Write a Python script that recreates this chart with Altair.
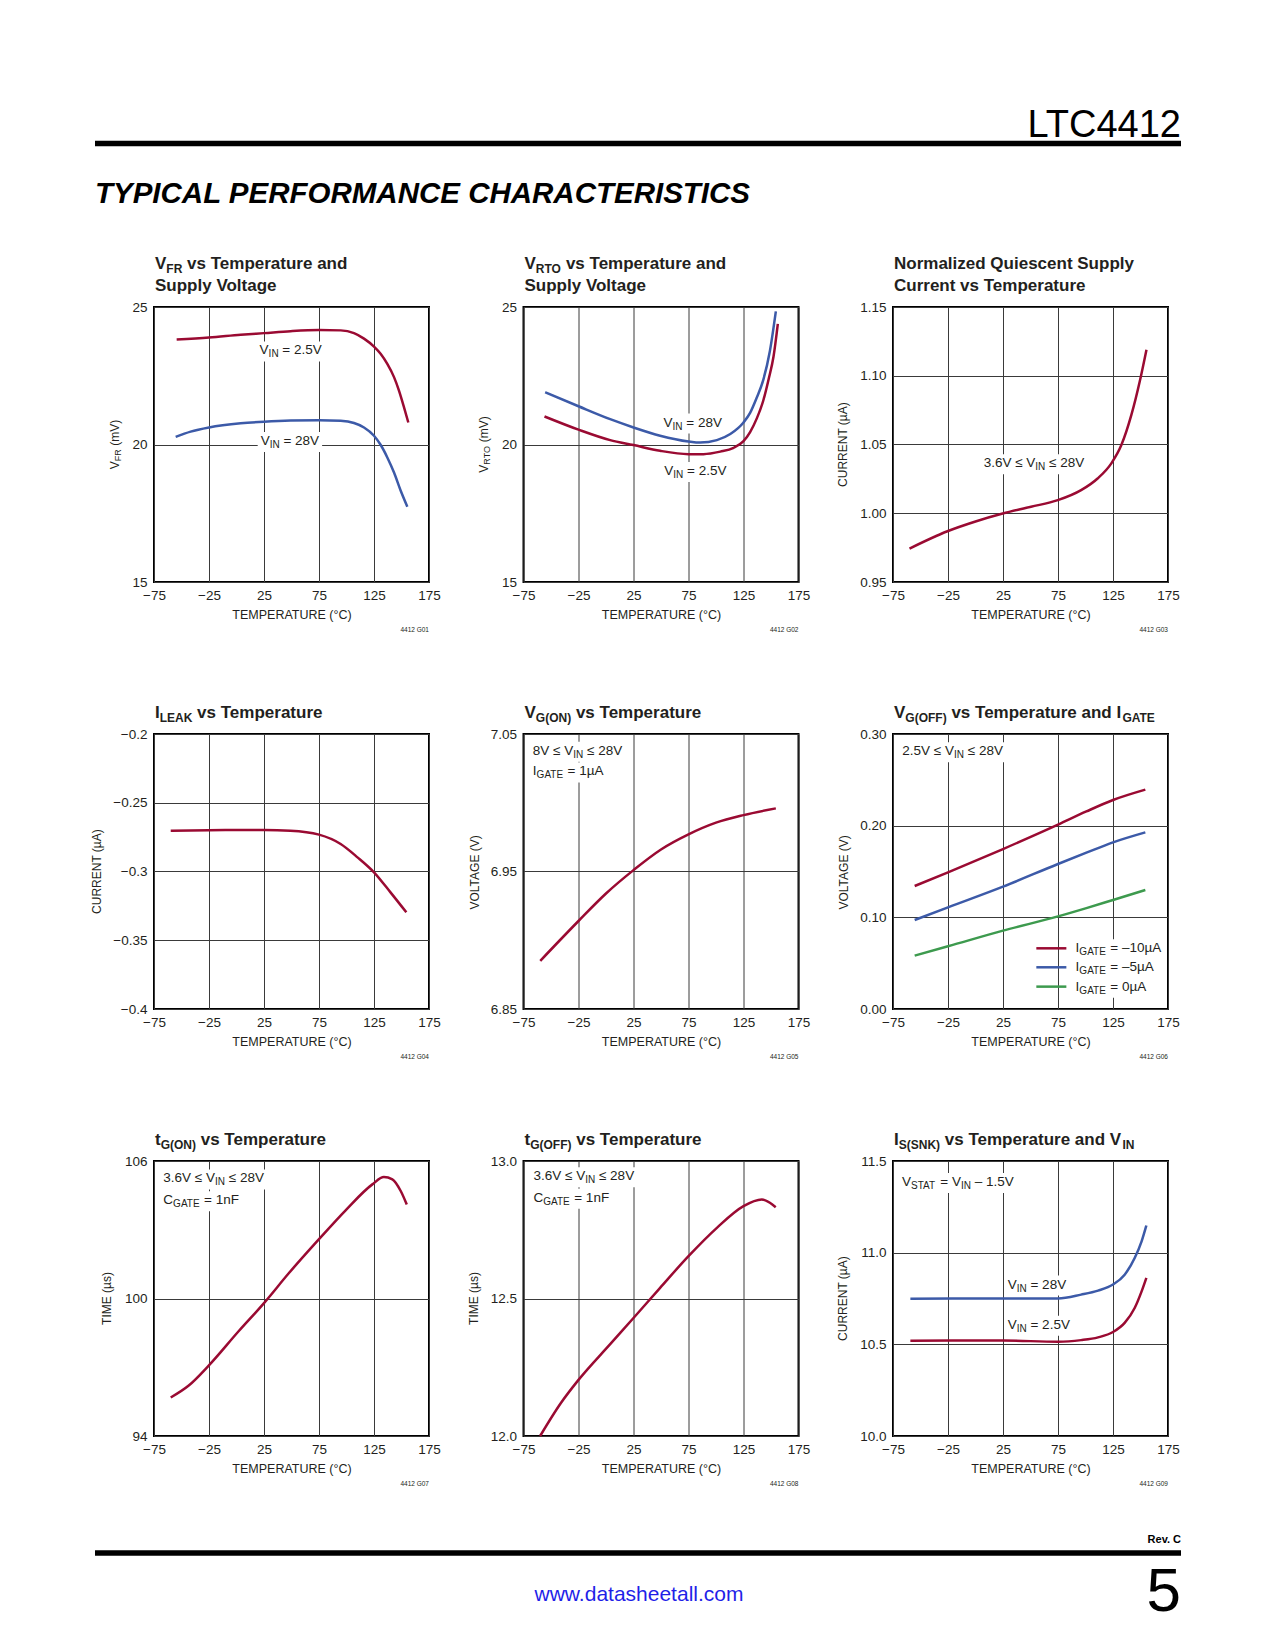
import altair as alt
import pandas as pd

FONT = "Liberation Sans"
INK = "#231f20"
RED = "#9a0a32"
BLUE = "#3c5aa8"
GREEN = "#3d9a4e"
GRID = "#3a3a3a"

PLOT_W = 275
PLOT_H = 275
PX_PER_DEG = PLOT_W / 250.0
TEMP_TICKS = [-75, -25, 25, 75, 125, 175]

# ---------------- data ----------------
# G01  VFR vs temperature
VFR_T_25 = [-54.4, -25, 3.8, 25, 49.2, 75, 94.7, 106.8, 115.9, 125, 131, 137.1, 143.2, 147.7, 152.3, 156.2]
VFR_V_25 = [23.82, 23.89, 23.99, 24.05, 24.12, 24.16, 24.15, 24.05, 23.85, 23.56, 23.30, 22.93, 22.45, 21.96, 21.35, 20.80]
VFR_T_28 = [-55.3, -41.7, -25, 3.8, 25, 49.2, 75, 94.7, 106.8, 115.9, 125, 131, 137.1, 143.2, 149.2, 155.3]
VFR_V_28 = [20.28, 20.47, 20.62, 20.77, 20.83, 20.87, 20.88, 20.86, 20.78, 20.62, 20.32, 19.99, 19.53, 18.98, 18.33, 17.74]
# G02  VRTO vs temperature
VRTO_T_28 = [-55.3, -25, 3.8, 25, 49.2, 75, 85.6, 100.8, 113, 125, 131, 137, 143, 149, 154.4]
VRTO_V_28 = [21.90, 21.39, 20.92, 20.62, 20.32, 20.11, 20.07, 20.16, 20.38, 20.80, 21.15, 21.70, 22.35, 23.40, 24.84]
VRTO_T_25 = [-55.9, -25, 3.8, 25, 49.2, 75, 88.6, 103.9, 116, 125, 131, 137.1, 143, 148, 152.3, 156.2]
VRTO_V_25 = [21.02, 20.54, 20.16, 19.98, 19.77, 19.65, 19.65, 19.74, 19.88, 20.12, 20.45, 20.95, 21.60, 22.40, 23.20, 24.39]
# G03  normalized quiescent current
IQ_T = [-60, -25.5, 0, 24.7, 50.5, 74.8, 96, 111, 123.5, 132.6, 141.7, 149.3, 155.4]
IQ_V = [0.9743, 0.9869, 0.9940, 0.9998, 1.0047, 1.0095, 1.0168, 1.0253, 1.0363, 1.0496, 1.0715, 1.0958, 1.1189]
# G04  ILEAK
ILEAK_T = [-59.8, -25, 25, 49, 75, 94.7, 110, 125, 140, 154.4]
ILEAK_V = [-0.2703, -0.2700, -0.2698, -0.2703, -0.2732, -0.2800, -0.2897, -0.3006, -0.3152, -0.3297]
# G05  VG(ON)
VGON_T = [-59.8, -25, 0, 25, 50, 75, 100, 125, 154.4]
VGON_V = [6.885, 6.914, 6.934, 6.951, 6.966, 6.977, 6.9855, 6.991, 6.9959]
# G06  VG(OFF)
VGOFF_T = [-55.3, -25, 25, 75, 100.8, 125, 154.4]
VGOFF_M10 = [0.1342, 0.1491, 0.1745, 0.2011, 0.2155, 0.2280, 0.2393]
VGOFF_M5 = [0.0971, 0.1109, 0.1335, 0.1582, 0.1705, 0.1818, 0.1927]
VGOFF_0 = [0.0582, 0.0684, 0.0855, 0.1010, 0.1100, 0.1189, 0.1298]
# G07  tG(ON)
TGON_T = [-59.8, -43.7, -25.5, 1.9, 25, 47.5, 75.2, 99.2, 123.5, 134, 141.7, 149.3, 154.8]
TGON_V = [95.68, 96.19, 97.06, 98.57, 99.80, 101.1, 102.6, 103.85, 104.98, 105.30, 105.2, 104.69, 104.1]
# G08  tG(OFF)
TGOFF_T = [-59.9, -41, -25, 3.8, 25, 49, 75, 100.8, 125, 141.6, 149, 154.3]
TGOFF_V = [12.0, 12.12, 12.204, 12.334, 12.429, 12.538, 12.654, 12.757, 12.836, 12.86, 12.848, 12.832]
# G09  IS(SNK)
ISNK_T = [-59.2, 25, 75, 96, 111.4, 125, 135.6, 144.7, 151, 155.3]
ISNK_28 = [10.749, 10.75, 10.75, 10.771, 10.793, 10.826, 10.88, 10.971, 11.062, 11.148]
ISNK_25 = [10.52, 10.521, 10.514, 10.523, 10.538, 10.567, 10.617, 10.698, 10.789, 10.862]

# legend of G06
LEG_NAMES = ["-10", "-5", "0"]
LEG_T1 = [55.3, 55.3, 55.3]
LEG_T2 = [82.6, 82.6, 82.6]
LEG_V = [0.0662, 0.0455, 0.0244]

# ---------------- text metrics (Arial widths, 1/1000 em) ----------------
REG = {' ': 278, '.': 278, '=': 584, '–': 556, '−': 584, '≤': 549, 'µ': 576, '(': 333, ')': 333,
       '°': 400, 'A': 667, 'B': 667, 'C': 722, 'D': 722, 'E': 667, 'F': 611, 'G': 778, 'H': 722,
       'I': 278, 'K': 667, 'L': 556, 'M': 833, 'N': 722, 'O': 778, 'P': 667, 'Q': 778, 'R': 722,
       'S': 667, 'T': 611, 'U': 722, 'V': 667, 'a': 556, 'b': 556, 'c': 500, 'd': 556, 'e': 556,
       'f': 278, 'g': 556, 'h': 556, 'i': 222, 'k': 500, 'l': 222, 'm': 833, 'n': 556, 'o': 556,
       'p': 556, 'r': 333, 's': 500, 't': 278, 'u': 556, 'v': 500, 'y': 500, 'z': 500}
BOLD = {' ': 278, '(': 333, ')': 333, 'A': 722, 'C': 722, 'E': 667, 'F': 611, 'G': 778, 'I': 278,
        'K': 722, 'L': 611, 'N': 722, 'O': 778, 'Q': 778, 'R': 722, 'S': 667, 'T': 611, 'V': 667,
        'a': 556, 'c': 556, 'd': 611, 'e': 556, 'g': 611, 'i': 278, 'l': 278, 'm': 889, 'n': 611,
        'o': 611, 'p': 611, 'r': 389, 's': 556, 't': 333, 'u': 611, 'v': 556, 'y': 556, 'z': 500}


def tw(s, size, bold=False):
    tab = BOLD if bold else REG
    return sum(tab.get(c, 556) for c in s) * size / 1000.0


ONE = pd.DataFrame({"k": [0]})

T_MAIN, T_SUB = 17, 12      # chart titles
N_MAIN, N_SUB = 13.5, 10    # in-plot notes
Y_MAIN, Y_SUB = 12, 9       # y-axis titles


def fixed_text(txt, x, y, size, bold=False, align="left", baseline="alphabetic",
               dy=0, angle=0, color=INK, italic=False):
    kw = dict(align=align, baseline=baseline, font=FONT, fontSize=size,
              fontWeight="bold" if bold else "normal", color=color)
    if dy:
        kw["dy"] = dy
    if angle:
        kw["angle"] = angle
    if italic:
        kw["fontStyle"] = "italic"
    return alt.Chart(ONE).mark_text(**kw).encode(
        x=alt.value(x), y=alt.value(y), text=alt.value(txt))


def split_lead(txt):
    s = txt.lstrip(" ")
    return txt[:len(txt) - len(s)], s


def title_layers(lines, x0=1.0):
    out = []
    for by, segs in lines:
        x = x0
        for txt, sub in segs:
            size = T_SUB if sub else T_MAIN
            lead, s = split_lead(txt)
            x += tw(lead, size, bold=True)
            out.append(fixed_text(s, x, by, size, bold=True, dy=3.5 if sub else 0))
            x += tw(s, size, bold=True)
    return out


def ytitle_layers(cx, segs):
    widths = [tw(t, Y_SUB if s else Y_MAIN) for t, s in segs]
    y = PLOT_H / 2 + sum(widths) / 2
    out = []
    for (txt, s), w in zip(segs, widths):
        sz = Y_SUB if s else Y_MAIN
        lead, st = split_lead(txt)
        out.append(fixed_text(st, cx, y - tw(lead, sz), sz, baseline="middle",
                              dy=3 if s else 0, angle=270))
        y -= w
    return out


def note_frames(notes, ydom):
    px_per_v = PLOT_H / float(ydom[1] - ydom[0])
    mrows, srows, boxes = [], [], []
    for T0, V0, segs in notes:
        off = 0.0
        for txt, s in segs:
            size = N_SUB if s else N_MAIN
            lead, st = split_lead(txt)
            off += tw(lead, size)
            (srows if s else mrows).append({"T": T0 + off / PX_PER_DEG, "V": V0, "txt": st})
            off += tw(st, size)
        boxes.append({"T": T0 - 3 / PX_PER_DEG, "T2": T0 + (off + 3) / PX_PER_DEG,
                      "V": V0 + 9 / px_per_v, "V2": V0 - 11 / px_per_v})
    return pd.DataFrame(mrows), pd.DataFrame(srows), pd.DataFrame(boxes)


def panel(series, ydom, yvals, yfmt, notes, tlines, ysegs, ycx, code, legend=None, extra=None):
    rows = []
    for name, ts, vs, col in series:
        rows += [{"T": t, "V": v, "s": name} for t, v in zip(ts, vs)]
    df = pd.DataFrame(rows)
    names = [s[0] for s in series]
    cols = [s[3] for s in series]

    def X(f):
        return alt.X(f"{f}:Q", scale=alt.Scale(domain=[-75, 175], nice=False, zero=False),
                     axis=alt.Axis(values=TEMP_TICKS, title="TEMPERATURE (°C)"))

    Y = alt.Y("V:Q", scale=alt.Scale(domain=ydom, nice=False, zero=False),
              axis=alt.Axis(values=yvals, format=yfmt, title=None))
    C = alt.Color("s:N", scale=alt.Scale(domain=names, range=cols), legend=None)

    m, s, b = note_frames(notes, ydom)
    layers = []
    if len(b):
        layers.append(alt.Chart(b).mark_rect(color="white")
                      .encode(x=X("T"), x2="T2:Q", y=Y, y2="V2:Q"))
    layers.append(alt.Chart(df).mark_line(strokeWidth=2.5, interpolate="monotone")
                  .encode(x=X("T"), y=Y, color=C))
    if legend is not None:
        layers.append(alt.Chart(legend).mark_rule(strokeWidth=2.5)
                      .encode(x=X("T"), x2="T2:Q", y=Y, color=C))
    for df_, size, dy in [(m, N_MAIN, 0), (s, N_SUB, 4)]:
        if len(df_) == 0:
            continue
        layers.append(alt.Chart(df_).mark_text(align="left", baseline="middle", font=FONT,
                                               fontSize=size, dy=dy, fill=INK)
                      .encode(x=X("T"), y=Y, text="txt:N"))
    layers += title_layers(tlines)
    layers += ytitle_layers(ycx, ysegs)
    layers.append(fixed_text(code, PLOT_W, PLOT_H + 48, 6.5, align="right", baseline="middle"))
    if extra:
        layers += extra
    return alt.layer(*layers).properties(width=PLOT_W, height=PLOT_H)


VIN = lambda v: [("V", 0), ("IN", 1), (" = " + v, 0)]
RANGE = lambda lo: [(lo + " ≤ V", 0), ("IN", 1), (" ≤ 28V", 0)]
GATE = lambda v: [("I", 0), ("GATE", 1), (" = " + v, 0)]
CGATE = [("C", 0), ("GATE", 1), (" = 1nF", 0)]
L1, L2 = -38, -16
ONE_LINE = -16

# page header (placed relative to the first panel, origin at page x=153, y=306)
header = [
    alt.Chart(ONE).mark_rule(color="white", strokeOpacity=0).encode(
        x=alt.value(-83), x2=alt.value(-83), y=alt.value(-226), y2=alt.value(-216)),
    alt.Chart(ONE).mark_rule(color="black", strokeWidth=5.3, strokeCap="butt").encode(
        x=alt.value(-59), x2=alt.value(1027), y=alt.value(-163.5)),
    fixed_text("LTC4412", 1027, -170, 38, align="right", color="black"),
    fixed_text("TYPICAL PERFORMANCE CHARACTERISTICS", -59, -104, 29.5, bold=True,
               italic=True, color="black"),
]
# page footer (relative to the seventh panel, origin at page x=153, y=1160)
footer = [
    alt.Chart(ONE).mark_rule(color="black", strokeWidth=5.3, strokeCap="butt").encode(
        x=alt.value(-59), x2=alt.value(1027), y=alt.value(392)),
    fixed_text("Rev. C", 1027, 382, 11, bold=True, align="right", color="black"),
    fixed_text("www.datasheetall.com", 485, 440, 21, align="center", color="#1f1fe8"),
    fixed_text("5", 1027, 450, 62, align="right", color="black"),
]

p1 = panel([("2.5V", VFR_T_25, VFR_V_25, RED), ("28V", VFR_T_28, VFR_V_28, BLUE)],
           [15, 25], [15, 20, 25], "d",
           [(21, 23.42, VIN("2.5V")), (22, 20.13, VIN("28V"))],
           [(L1, [("V", 0), ("FR", 1), (" vs Temperature and", 0)]),
            (L2, [("Supply Voltage", 0)])],
           [("V", 0), ("FR", 1), (" (mV)", 0)], -39, "4412 G01", extra=header)

p2 = panel([("2.5V", VRTO_T_25, VRTO_V_25, RED), ("28V", VRTO_T_28, VRTO_V_28, BLUE)],
           [15, 25], [15, 20, 25], "d",
           [(52.3, 20.80, VIN("28V")), (53, 19.04, VIN("2.5V"))],
           [(L1, [("V", 0), ("RTO", 1), (" vs Temperature and", 0)]),
            (L2, [("Supply Voltage", 0)])],
           [("V", 0), ("RTO", 1), (" (mV)", 0)], -40, "4412 G02")

p3 = panel([("all", IQ_T, IQ_V, RED)],
           [0.95, 1.15], [0.95, 1.0, 1.05, 1.10, 1.15], ".2f",
           [(7.4, 1.0363, RANGE("3.6V"))],
           [(L1, [("Normalized Quiescent Supply", 0)]),
            (L2, [("Current vs Temperature", 0)])],
           [("CURRENT (µA)", 0)], -50, "4412 G03")

p4 = panel([("all", ILEAK_T, ILEAK_V, RED)],
           [-0.4, -0.2], [-0.4, -0.35, -0.3, -0.25, -0.2], "~g",
           [],
           [(ONE_LINE, [("I", 0), ("LEAK", 1), (" vs Temperature", 0)])],
           [("CURRENT (µA)", 0)], -57, "4412 G04")

p5 = panel([("all", VGON_T, VGON_V, RED)],
           [6.85, 7.05], [6.85, 6.95, 7.05], ".2f",
           [(-66.5, 7.0379, RANGE("8V")), (-66.5, 7.0228, GATE("1µA"))],
           [(ONE_LINE, [("V", 0), ("G(ON)", 1), (" vs Temperature", 0)])],
           [("VOLTAGE (V)", 0)], -49, "4412 G05")

leg_df = pd.DataFrame({"T": LEG_T1, "T2": LEG_T2, "V": LEG_V, "s": LEG_NAMES})
p6 = panel([("-10", VGOFF_T, VGOFF_M10, RED), ("-5", VGOFF_T, VGOFF_M5, BLUE),
            ("0", VGOFF_T, VGOFF_0, GREEN)],
           [0, 0.30], [0, 0.10, 0.20, 0.30], ".2f",
           [(-66.5, 0.2811, RANGE("2.5V")),
            (91, LEG_V[0], GATE("–10µA")), (91, LEG_V[1], GATE("–5µA")),
            (91, LEG_V[2], GATE("0µA"))],
           [(ONE_LINE, [("V", 0), ("G(OFF)", 1), (" vs Temperature and I", 0), ("GATE", 1)])],
           [("VOLTAGE (V)", 0)], -49, "4412 G06", legend=leg_df)

p7 = panel([("all", TGON_T, TGON_V, RED)],
           [94, 106], [94, 100, 106], "d",
           [(-66.5, 105.24, RANGE("3.6V")), (-66.5, 104.29, CGATE)],
           [(ONE_LINE, [("t", 0), ("G(ON)", 1), (" vs Temperature", 0)])],
           [("TIME (µs)", 0)], -47, "4412 G07", extra=footer)

p8 = panel([("all", TGOFF_T, TGOFF_V, RED)],
           [12, 13], [12, 12.5, 13], ".1f",
           [(-65.9, 12.945, RANGE("3.6V")), (-65.9, 12.866, CGATE)],
           [(ONE_LINE, [("t", 0), ("G(OFF)", 1), (" vs Temperature", 0)])],
           [("TIME (µs)", 0)], -50, "4412 G08")

p9 = panel([("2.5V", ISNK_T, ISNK_25, RED), ("28V", ISNK_T, ISNK_28, BLUE)],
           [10, 11.5], [10, 10.5, 11, 11.5], ".1f",
           [(-66.8, 11.385, [("V", 0), ("STAT", 1), (" = V", 0), ("IN", 1), (" – 1.5V", 0)]),
            (29.3, 10.826, VIN("28V")), (29.3, 10.607, VIN("2.5V"))],
           [(ONE_LINE, [("I", 0), ("S(SNK)", 1), (" vs Temperature and V", 0), ("IN", 1)])],
           [("CURRENT (µA)", 0)], -50, "4412 G09")

chart = (
    alt.concat(p1, p2, p3, p4, p5, p6, p7, p8, p9, columns=3,
               spacing={"row": 152, "column": 94.5}, bounds="flush")
    .resolve_scale(color="independent")
    .properties(padding={"left": 62, "top": 72, "right": 10, "bottom": 10})
    .configure_axis(labelFont=FONT, labelFontSize=13.5, labelColor=INK, ticks=False, domain=False,
                    gridColor=GRID, gridWidth=1, gridOpacity=1, titleFont=FONT,
                    titleFontSize=12.5, titleFontWeight="normal", titleColor=INK)
    .configure_axisX(labelPadding=6, titlePadding=7, labelFlush=False)
    .configure_axisY(labelPadding=7)
    .configure_view(stroke="black", strokeWidth=2)
)

chart.save("out.html", embed_options={"renderer": "svg", "actions": False})
